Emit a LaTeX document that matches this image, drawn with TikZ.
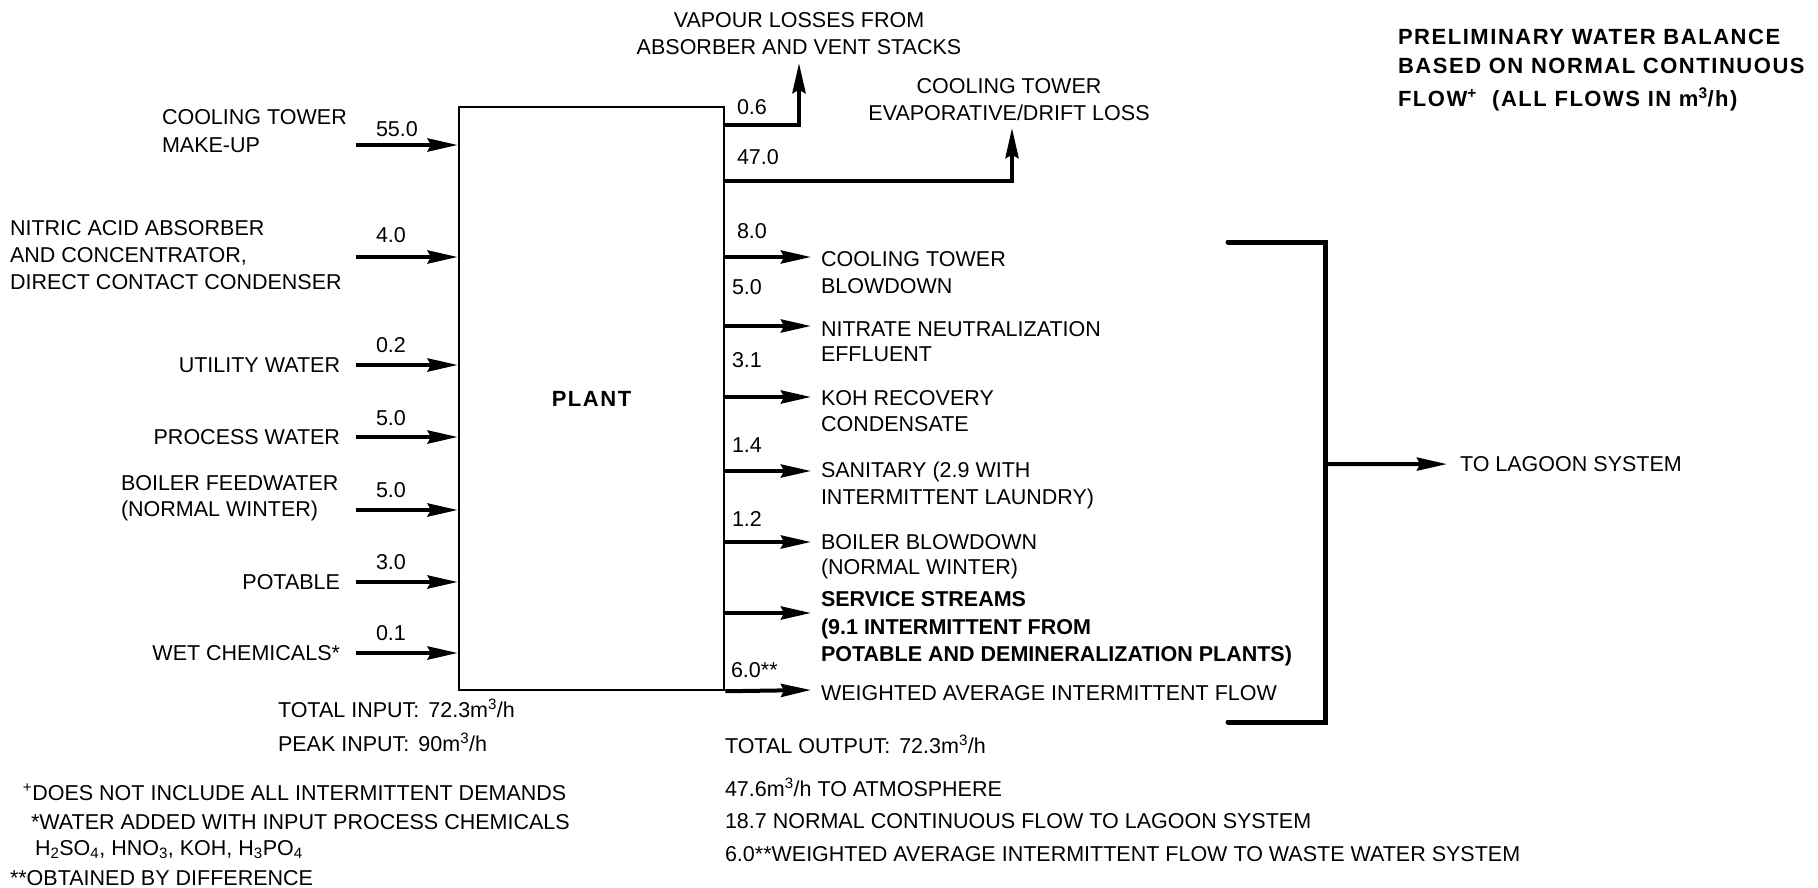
\documentclass[tikz,border=0pt]{standalone}
\usepackage{fontspec}
\setmainfont{Liberation Sans}
\newfontfamily\titlefont{Liberation Sans}[LetterSpace=7.0]
\usetikzlibrary{arrows.meta}
\tikzset{
  txt/.style={inner sep=0pt, outer sep=0pt, font=\fontsize{21.5}{27}\selectfont, align=left},
  txtc/.style={txt, align=center},
  bold/.style={inner sep=0pt, outer sep=0pt, font=\fontsize{21.5}{27.5}\selectfont\bfseries, align=left},
  ttl/.style={inner sep=0pt, outer sep=0pt, font=\titlefont\fontsize{22}{29}\selectfont\bfseries, align=left},
  flow/.style={line width=4pt, -{Stealth[length=30pt,width=13pt,inset=3pt]}},
  bracket/.style={line width=5pt, line cap=round, line join=miter},
  box/.style={draw, line width=2.5pt, minimum width=265pt, minimum height=583pt, inner sep=0pt,
    font=\titlefont\fontsize{22}{26}\selectfont\bfseries}
}
\begin{document}
\begin{tikzpicture}[x=1pt,y=-1pt]
\useasboundingbox (0,0) rectangle (1818,888);

% plant box
\node[box] (plant) at (591.5,398.5) {PLANT};

% ---------- inputs ----------
\coordinate (in1) at (356,145);
\coordinate (in2) at (356,257);
\coordinate (in3) at (356,365);
\coordinate (in4) at (356,437);
\coordinate (in5) at (356,510);
\coordinate (in6) at (356,582);
\coordinate (in7) at (356,653);
\foreach \c in {in1,in2,in3,in4,in5,in6,in7}
  \draw[flow] (\c) -- (\c -| plant.west);

\node[txt, anchor=base west] (n1) at (376,136.5) {55.0};
\node[txt, anchor=base west] (n2) at (376,242.5) {4.0};
\node[txt, anchor=base west] (n3) at (376,352.5) {0.2};
\node[txt, anchor=base west] (n4) at (376,425.5) {5.0};
\node[txt, anchor=base west] (n5) at (376,497.5) {5.0};
\node[txt, anchor=base west] (n6) at (376,569.5) {3.0};
\node[txt, anchor=base west] (n7) at (376,640.5) {0.1};

\node[txt, anchor=north west, font=\fontsize{21.5}{28}\selectfont] (l1) at (162,109.5) {COOLING TOWER\\MAKE-UP};
\node[txt, anchor=north west] (l2) at (10,220.5) {NITRIC ACID ABSORBER\\AND CONCENTRATOR,\\DIRECT CONTACT CONDENSER};
\node[txt, anchor=base east] (l3) at (340,372.5) {UTILITY WATER};
\node[txt, anchor=base east] (l4) at (340,444.5) {PROCESS WATER};
\node[txt, anchor=north west, font=\fontsize{21.5}{26}\selectfont] (l5) at (121,475.5) {BOILER FEEDWATER\\(NORMAL WINTER)};
\node[txt, anchor=base east] (l6) at (340,589) {POTABLE};
\node[txt, anchor=base east] (l7) at (340,660) {WET CHEMICALS*};

% ---------- losses to atmosphere ----------
\coordinate (vc) at (799,125);
\coordinate (vt) at (799,63);
\draw[flow] (vc -| plant.east) -- (vc) -- (vt);
\coordinate (ec) at (1012,181);
\coordinate (et) at (1012,128);
\draw[flow] (ec -| plant.east) -- (ec) -- (et);

\node[txtc, anchor=north] (vap) at (799,12.5) {VAPOUR LOSSES FROM\\ABSORBER AND VENT STACKS};
\node[txtc, anchor=north] (evap) at (1009,78.5) {COOLING TOWER\\EVAPORATIVE/DRIFT LOSS};
\node[txt, anchor=base west] (m1) at (737,114.5) {0.6};
\node[txt, anchor=base west] (m2) at (737,164.5) {47.0};

% ---------- outputs ----------
\coordinate (o1) at (811,257);
\coordinate (o2) at (811,326);
\coordinate (o3) at (811,397);
\coordinate (o4) at (811,471);
\coordinate (o5) at (811,542);
\coordinate (o6) at (811,613);
\foreach \c in {o1,o2,o3,o4,o5,o6}
  \draw[flow] (\c -| plant.east) -- (\c);
\coordinate (o7) at (811,690);
\draw[flow] (plant.south east) -- (o7);

\node[txt, anchor=base west] (m3) at (737,238.5) {8.0};
\node[txt, anchor=base west] (m4) at (732,294.5) {5.0};
\node[txt, anchor=base west] (m5) at (732,367.5) {3.1};
\node[txt, anchor=base west] (m6) at (732,452.5) {1.4};
\node[txt, anchor=base west] (m7) at (732,526.5) {1.2};
\node[txt, anchor=base west] (m8) at (731,677.5) {6.0**};

\node[txt, anchor=north west] (r1) at (821,251.5) {COOLING TOWER\\BLOWDOWN};
\node[txt, anchor=north west, font=\fontsize{21.5}{25}\selectfont] (r2) at (821,321.5) {NITRATE NEUTRALIZATION\\EFFLUENT};
\node[txt, anchor=north west, font=\fontsize{21.5}{26}\selectfont] (r3) at (821,390.5) {KOH RECOVERY\\CONDENSATE};
\node[txt, anchor=north west] (r4) at (821,461.5) {SANITARY (2.9 WITH\\INTERMITTENT LAUNDRY)};
\node[txt, anchor=north west, font=\fontsize{21.5}{25}\selectfont] (r5) at (821,534.5) {BOILER BLOWDOWN\\(NORMAL WINTER)};
\node[bold, anchor=north west] (r6) at (821,591.5) {SERVICE STREAMS\\(9.1 INTERMITTENT FROM\\POTABLE AND DEMINERALIZATION PLANTS)};
\node[txt, anchor=base west] (r7) at (821,700.5) {WEIGHTED AVERAGE INTERMITTENT FLOW};

% ---------- bracket to lagoon ----------
\coordinate (b1) at (1228,242);
\coordinate (b2) at (1325,242);
\coordinate (b3) at (1325,722);
\coordinate (b4) at (1228,722);
\draw[bracket] (b1) -- (b2) -- (b3) -- (b4);
\coordinate (lg) at (1325,464);
\node[txt, anchor=base west] (lagoon) at (1460,471.5) {TO LAGOON SYSTEM};
\draw[flow] (lg) -- ([xshift=-13pt]lagoon.west);

% ---------- title ----------
\node[ttl, anchor=north west] (title) at (1398,29) {PRELIMINARY WATER BALANCE\\BASED ON NORMAL CONTINUOUS\\[4pt]FLOW\textsuperscript{+}\ \ (ALL FLOWS IN m\textsuperscript{3}/h)};

% ---------- totals and notes ----------
\node[txt, anchor=base west] (tin) at (278,717.5) {TOTAL INPUT:\hspace{9pt}72.3m\textsuperscript{3}/h};
\node[txt, anchor=base west] (pin) at (278,751) {PEAK INPUT:\hspace{9pt}90m\textsuperscript{3}/h};
\node[txt, anchor=base west] (tout) at (725,753.5) {TOTAL OUTPUT:\hspace{9pt}72.3m\textsuperscript{3}/h};
\node[txt, anchor=base west] (atm) at (725,796.5) {47.6m\textsuperscript{3}/h TO ATMOSPHERE};
\node[txt, anchor=base west] (nrm) at (725,828.5) {18.7 NORMAL CONTINUOUS FLOW TO LAGOON SYSTEM};
\node[txt, anchor=base west] (wav) at (725,861) {6.0**WEIGHTED AVERAGE INTERMITTENT FLOW TO WASTE WATER SYSTEM};

\node[txt, anchor=base west] (f1) at (23,800) {\textsuperscript{+}DOES NOT INCLUDE ALL INTERMITTENT DEMANDS};
\node[txt, anchor=base west] (f2) at (31,829.5) {*WATER ADDED WITH INPUT PROCESS CHEMICALS};
\node[txt, anchor=base west] (f3) at (35,855.5) {H\textsubscript{2}SO\textsubscript{4}, HNO\textsubscript{3}, KOH, H\textsubscript{3}PO\textsubscript{4}};
\node[txt, anchor=base west] (f4) at (10,885) {**OBTAINED BY DIFFERENCE};
\end{tikzpicture}
\end{document}
